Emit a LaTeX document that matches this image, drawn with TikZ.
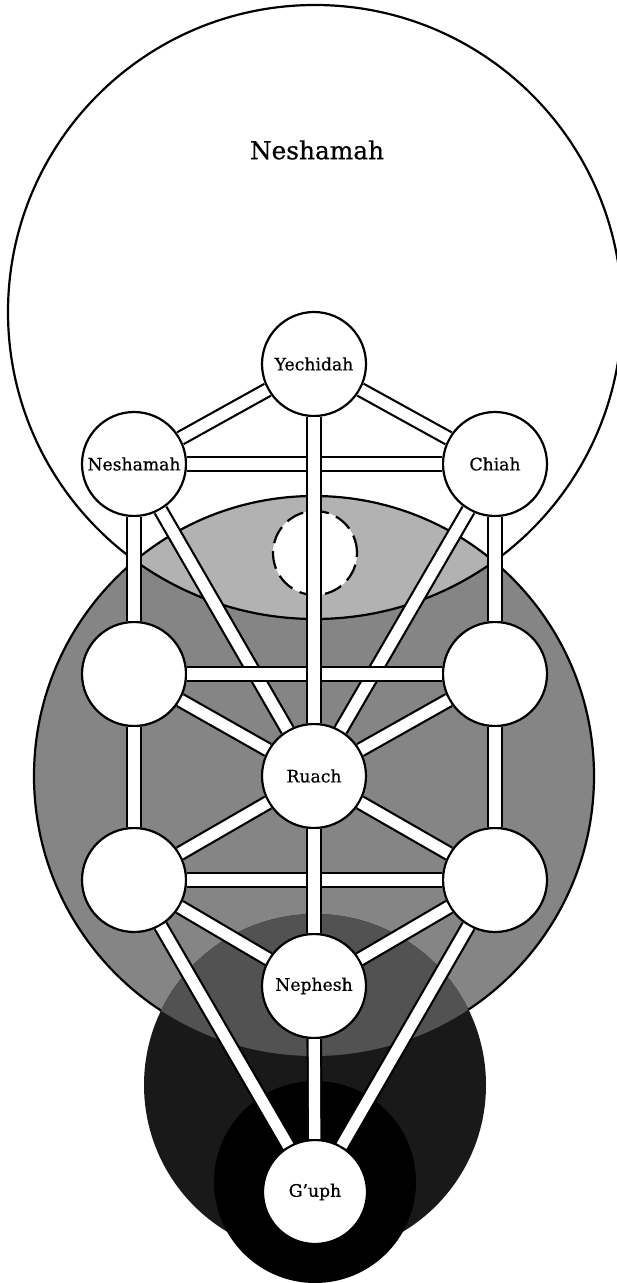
\documentclass[tikz,border=0pt]{standalone}
\usepackage{fontspec}
\setmainfont{DejaVu Serif}
\newfontfamily\lblfont{DejaVu Serif}[FakeBold=0.6,Ligatures=TeX]
\begin{document}
\begin{tikzpicture}[x=0.5pt,y=-0.5pt]
\tikzset{
  sefnode/.style={circle, draw=black, fill=white, line width=1.1pt, minimum size=52pt, inner sep=0pt, font=\lblfont\fontsize{8.6}{10}\selectfont},
  daathnode/.style={circle, draw=black, fill=white, line width=1.1pt, minimum size=42pt, inner sep=0pt, dash pattern=on 9pt off 4pt},
  bar/.style={draw=black, line width=1.1pt, double=white, double distance=5.6pt},
  outline/.style={draw=black, line width=1.1pt},
  titletext/.style={font=\lblfont\fontsize{12.4}{14}\selectfont},
}
\definecolor{lightreg}{gray}{0.70}
\definecolor{ruachreg}{gray}{0.52}
\definecolor{nephruach}{gray}{0.32}
\definecolor{nephreg}{gray}{0.10}
\useasboundingbox (0,0) rectangle (616,1283);
\fill[white] (0,0) rectangle (616,1283);
% Ruach circle
\fill[ruachreg] (314,776) circle[radius=140pt];
% Neshamah and Ruach overlap
\begin{scope}
  \clip (315,312) circle[radius=153.5pt];
  \fill[lightreg] (314,776) circle[radius=140pt];
\end{scope}
\draw[outline] (314,776) circle[radius=140pt];
\draw[outline] (315,312) circle[radius=153.5pt];
% Nephesh circle
\fill[nephreg] (315,1085) circle[radius=85.5pt];
\begin{scope}
  \clip (314,776) circle[radius=140pt];
  \fill[nephruach] (315,1085) circle[radius=85.5pt];
\end{scope}
% G'uph circle
\fill[black] (315,1182) circle[radius=50.5pt];
% title
\node[titletext] (title) at (317,150) {Neshamah};
% nodes
\node[daathnode] (daath) at (315,553) {};
\node[sefnode] (yech) at (314,364) {Yechidah};
\node[sefnode] (nesh) at (134,464) {Neshamah};
\node[sefnode] (chiah) at (495,464) {Chiah};
\node[sefnode] (lm) at (134,674) {};
\node[sefnode] (rm) at (495,674) {};
\node[sefnode] (ruach) at (314,776) {Ruach};
\node[sefnode] (ll) at (134,880) {};
\node[sefnode] (rl) at (495,880) {};
\node[sefnode] (neph) at (314,986) {Nephesh};
\node[sefnode] (guph) at (315,1192) {G’uph};
% connectors: diagonals first
\draw[bar] (nesh) -- (ruach);
\draw[bar] (chiah) -- (ruach);
% horizontals
\draw[bar] (nesh) -- (chiah);
\draw[bar] (lm) -- (rm);
\draw[bar] (ll) -- (rl);
% others
\draw[bar] (yech) -- (nesh);
\draw[bar] (yech) -- (chiah);
\draw[bar] (nesh) -- (lm);
\draw[bar] (chiah) -- (rm);
\draw[bar] (lm) -- (ruach);
\draw[bar] (rm) -- (ruach);
\draw[bar] (lm) -- (ll);
\draw[bar] (rm) -- (rl);
\draw[bar] (ll) -- (ruach);
\draw[bar] (rl) -- (ruach);
\draw[bar] (ll) -- (neph);
\draw[bar] (rl) -- (neph);
\draw[bar] (ll) -- (guph);
\draw[bar] (rl) -- (guph);
\draw[bar] (neph) -- (guph);
% verticals on top
\draw[bar] (yech) -- (ruach);
\draw[bar] (ruach) -- (neph);
\end{tikzpicture}
\end{document}
